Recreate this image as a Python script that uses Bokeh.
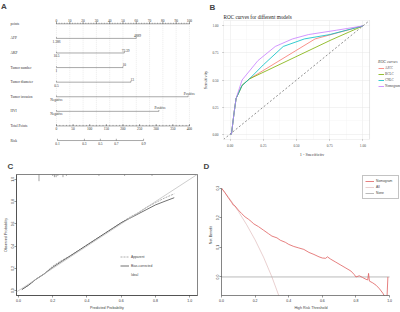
from bokeh.plotting import figure
from bokeh.models import (Range1d, Label, Legend, LegendItem, Slope, FixedTicker,
                          NumeralTickFormatter, Title, BoxAnnotation)
from bokeh.layouts import row, column
from bokeh.embed import file_html
from bokeh.resources import INLINE
from bokeh.core.properties import value

SERIF = "Liberation Serif"
SANS = "Liberation Sans"
W, H = 200, 156

# ---------------- Panel A: nomogram ----------------
nomo_rows = ["points", "AFP", "AKP", "Tumor number", "Tumor diameter",
             "Tumor invasion", "HVI", "Total Points", "Risk"]
nomo_var_points = [60, 51, 50, 56, 99, 77]
nomo_low_labels = ["1.386", "10.5", "1", "0.5", "Negative", "Negative"]
nomo_high_labels = ["4889", "73.39", "10", "13", "Positive", "Positive"]
points_ticks = [0, 10, 20, 30, 40, 50, 60, 70, 80, 90, 100]
total_points_ticks = [0, 50, 100, 150, 200, 250, 300, 350, 400]
risk_labels = ["0.1", "0.3", "0.5", "0.7", "0.9"]
risk_total_points = [3, 84, 132, 180, 262]

# ---------------- Panel B: ROC ----------------
roc_models = ["AJCC", "BCLC", "CNLC", "Nomogram"]
roc_colors = ["#F8766D", "#7CAE00", "#00BFC4", "#C77CFF"]
fpr_ajcc = [0.0, 0.01, 0.03, 0.045, 0.09, 0.145, 0.64, 1.0]
tpr_ajcc = [0.0, 0.0, 0.20, 0.33, 0.45, 0.51, 0.88, 1.0]
fpr_bclc = [0.0, 0.01, 0.03, 0.045, 0.09, 0.145, 0.76, 1.0]
tpr_bclc = [0.0, 0.0, 0.20, 0.33, 0.45, 0.51, 0.87, 1.0]
fpr_cnlc = [0.0, 0.01, 0.03, 0.045, 0.09, 0.145, 0.25, 0.40, 0.56, 0.75, 1.0]
tpr_cnlc = [0.0, 0.0, 0.20, 0.33, 0.45, 0.51, 0.64, 0.81, 0.88, 0.92, 1.0]
fpr_nomo = [0.0, 0.01, 0.03, 0.045, 0.09, 0.21, 0.34, 0.47, 0.59, 0.80, 1.0]
tpr_nomo = [0.0, 0.0, 0.20, 0.33, 0.50, 0.68, 0.81, 0.88, 0.92, 0.96, 1.0]
roc_chance = [-0.05, 1.05]
roc_ticks = [0.0, 0.25, 0.5, 0.75, 1.0]
roc_minor = [0.125, 0.375, 0.625, 0.875]

# ---------------- Panel C: calibration ----------------
cal_pred = [0.02, 0.06, 0.10, 0.15, 0.20, 0.25, 0.30, 0.35, 0.40, 0.45, 0.50, 0.55,
            0.60, 0.65, 0.70, 0.75, 0.80, 0.85, 0.91]
cal_apparent = [0.01, 0.05, 0.10, 0.15, 0.22, 0.27, 0.31, 0.36, 0.41, 0.46, 0.51, 0.56,
                0.61, 0.66, 0.70, 0.75, 0.79, 0.83, 0.87]
cal_bias_corrected = [0.01, 0.05, 0.10, 0.15, 0.21, 0.26, 0.31, 0.36, 0.41, 0.46, 0.51, 0.56,
                      0.61, 0.65, 0.69, 0.73, 0.77, 0.80, 0.835]
rug_x = [0.12, 0.20, 0.21, 0.22, 0.23, 0.26, 0.28, 0.47, 0.62, 0.78]
rug_freq = [5, 1, 2, 2, 1, 2, 1, 1, 1, 1]
cal_ticks = [0.0, 0.2, 0.4, 0.6, 0.8, 1.0]

# ---------------- Panel D: decision curve ----------------
dca_threshold = [0.00, 0.02, 0.04, 0.06, 0.07, 0.08, 0.10, 0.12, 0.14, 0.16, 0.18, 0.19,
                 0.22, 0.25, 0.28, 0.30, 0.33, 0.35, 0.38, 0.40, 0.43, 0.46, 0.49, 0.52,
                 0.55, 0.58, 0.60, 0.62, 0.63, 0.65, 0.68, 0.71, 0.74, 0.77, 0.79, 0.80,
                 0.82, 0.84, 0.86, 0.87, 0.875, 0.88, 0.90, 0.92, 0.94, 0.96, 0.97, 0.985, 0.99]
dca_nomogram = [0.300, 0.285, 0.268, 0.252, 0.243, 0.240, 0.226, 0.214, 0.203, 0.195, 0.186, 0.180,
                0.170, 0.158, 0.146, 0.138, 0.132, 0.124, 0.117, 0.110, 0.103, 0.098, 0.093, 0.083,
                0.076, 0.068, 0.064, 0.063, 0.068, 0.060, 0.050, 0.040, 0.030, 0.020, 0.008, 0.000,
                0.004, -0.002, -0.008, -0.010, 0.012, -0.014, -0.020, -0.028, -0.040, -0.055, -0.065, -0.065, 0.000]
dca_all_threshold = [0.0, 0.05, 0.10, 0.15, 0.20, 0.25, 0.30, 0.35, 0.40]
dca_all = [0.30, 0.263, 0.222, 0.176, 0.125, 0.067, 0.0, -0.077, -0.167]
dca_none_threshold = [0.0, 1.0]
dca_none = [0.0, 0.0]
dca_x_ticks = [0.0, 0.2, 0.4, 0.6, 0.8, 1.0]
dca_y_ticks = [0.0, 0.1, 0.2, 0.3]


def base_fig(**kw):
    p = figure(width=W, height=H, output_backend="svg", toolbar_location=None,
               title_location=None, **kw)
    p.frame_align = False
    return p


def letter_title(p, t, offset, standoff):
    p.add_layout(Title(text=t, align="left", offset=offset, standoff=standoff,
                       text_font=SANS, text_font_style="bold", text_font_size="8px"), "above")


# ======== Panel A ========
pA = base_fig(x_range=Range1d(-42.1, 108.3), y_range=Range1d(9.095, -1.597),
              x_axis_type=None, y_axis_type=None, min_border=0)
pA.outline_line_color = None
txtA = dict(text_font=value(SERIF), text_font_size="3.5px", text_color="#333333")
ln = dict(line_color="#555555", line_width=0.5)
rows = list(range(len(nomo_rows)))
pA.text(x=[-34.6] * len(rows), y=rows, text=nomo_rows, text_align="left",
        text_baseline="middle", **txtA)
pA.segment(x0=points_ticks, y0=[0] * 11, x1=points_ticks, y1=[7.1] * 11,
           line_color="#CCCCCC", line_width=0.4, line_dash="1 1")
pA.line(x=[points_ticks[0], points_ticks[-1]], y=[0, 0], **ln)
minor_pts = [v / 2 for v in range(0, 201, 4)]
pA.segment(x0=minor_pts, y0=[0] * len(minor_pts), x1=minor_pts, y1=[-0.07] * len(minor_pts), **ln)
pA.segment(x0=points_ticks, y0=[0] * 11, x1=points_ticks, y1=[-0.13] * 11, **ln)
pA.text(x=points_ticks, y=[-0.14] * 11, text=[str(v) for v in points_ticks],
        text_align="center", text_baseline="bottom", **txtA)
var_rows = rows[1:7]
pA.segment(x0=[0] * 6, y0=var_rows, x1=nomo_var_points, y1=var_rows, **ln)
pA.segment(x0=[0] * 6, y0=var_rows, x1=[0] * 6, y1=[r - 0.09 for r in var_rows], **ln)
pA.segment(x0=nomo_var_points, y0=var_rows, x1=nomo_var_points,
           y1=[r - 0.09 for r in var_rows], **ln)
pA.text(x=[0] * 6, y=[r + 0.2 for r in var_rows], text=nomo_low_labels,
        text_align="center", text_baseline="middle", **txtA)
pA.text(x=[v + 1 for v in nomo_var_points], y=[r - 0.2 for r in var_rows], text=nomo_high_labels,
        text_align="center", text_baseline="middle", **txtA)
tp_scale = points_ticks[-1] / total_points_ticks[-1]
tp_minor = [v * tp_scale for v in range(0, 401, 10)]
pA.line(x=[0, total_points_ticks[-1] * tp_scale], y=[7, 7], **ln)
pA.segment(x0=tp_minor, y0=[7] * len(tp_minor), x1=tp_minor, y1=[6.93] * len(tp_minor), **ln)
tp_x = [v * tp_scale for v in total_points_ticks]
pA.segment(x0=tp_x, y0=[7] * 9, x1=tp_x, y1=[6.87] * 9, **ln)
pA.text(x=tp_x, y=[7.2] * 9, text=[str(v) for v in total_points_ticks],
        text_align="center", text_baseline="middle", **txtA)
rk_x = [v * tp_scale for v in risk_total_points]
pA.line(x=[rk_x[0], rk_x[-1]], y=[8, 8], **ln)
pA.segment(x0=rk_x, y0=[8] * 5, x1=rk_x, y1=[7.88] * 5, **ln)
pA.text(x=rk_x, y=[8.22] * 5, text=risk_labels, text_align="center",
        text_baseline="middle", **txtA)
pA.add_layout(Label(x=-41.7, y=-1.5, text="A", text_font=SANS, text_font_style="bold",
                    text_font_size="8px", text_baseline="top"))

# ======== Panel B ========
pB = base_fig(x_range=Range1d(-0.05, 1.283), y_range=Range1d(-0.05, 1.05),
              min_border_left=17, min_border_right=0, min_border_top=13, min_border_bottom=8)
pB.outline_line_color = None
pB.add_layout(BoxAnnotation(left=-0.05, right=1.05, bottom=-0.05, top=1.05,
                            fill_alpha=0, line_color="#777777", line_width=0.6))
for ax in (pB.xaxis[0], pB.yaxis[0]):
    ax.ticker = FixedTicker(ticks=roc_ticks, minor_ticks=roc_minor)
    ax.formatter = NumeralTickFormatter(format="0.00")
    ax.axis_line_color = None
    ax.major_tick_line_color = "#555555"
    ax.major_tick_line_width = 0.5
    ax.major_tick_out = 1
    ax.major_tick_in = 0
    ax.minor_tick_line_color = None
    ax.major_label_text_font = SERIF
    ax.major_label_text_font_size = "3.5px"
    ax.major_label_text_color = "#4D4D4D"
    ax.major_label_standoff = 1
    ax.axis_label_text_font = SERIF
    ax.axis_label_text_font_size = "4.3px"
    ax.axis_label_text_font_style = "normal"
    ax.axis_label_standoff = 1
pB.xaxis[0].major_label_standoff = 0
pB.yaxis.axis_label = "Sensitivity"
pB.add_layout(Title(text="1 - Specificity", align="center", offset=-16, standoff=0,
                    text_font=SERIF, text_font_size="4.3px", text_font_style="normal"), "below")
pB.xgrid[0].cross_bounds = (-0.05, 1.05)
pB.ygrid[0].cross_bounds = (-0.05, 1.05)
for g in (pB.xgrid[0], pB.ygrid[0]):
    g.grid_line_color = "#E6E6E6"
    g.grid_line_width = 0.5
    g.minor_grid_line_color = "#F3F3F3"
    g.minor_grid_line_width = 0.4
roc_data = [(fpr_ajcc, tpr_ajcc), (fpr_bclc, tpr_bclc), (fpr_cnlc, tpr_cnlc), (fpr_nomo, tpr_nomo)]
roc_items = []
pB.line(x=roc_chance, y=roc_chance, line_color="#444444", line_width=0.6, line_dash="2 2")
for name, col, (fx, ty) in zip(roc_models, roc_colors, roc_data):
    r = pB.line(fx, ty, line_color=col, line_width=0.8)
    roc_items.append(LegendItem(label=name, renderers=[r]))
legB = Legend(items=roc_items, title="ROC curves", location=(155, 50),
              label_text_font=SERIF, label_text_font_size="3.3px",
              title_text_font=SERIF, title_text_font_size="4px", title_standoff=1,
              glyph_width=6, glyph_height=6, label_height=6, label_standoff=1,
              spacing=0, padding=0, margin=0, border_line_color=None,
              background_fill_alpha=0)
pB.add_layout(legB)
pB.add_layout(Title(text="ROC curves for different models", align="left", standoff=1,
                    text_font=SERIF, text_font_size="5.2px", text_font_style="normal",
                    text_color="#222222"), "above")
letter_title(pB, "B", -14, 0)

# ======== Panel C ========
pC = base_fig(x_range=Range1d(-0.0114, 1.0457), y_range=Range1d(-0.0435, 1.0435),
              min_border_left=12, min_border_right=3, min_border_top=17, min_border_bottom=14)
pC.outline_line_color = "#333333"
pC.outline_line_width = 0.6
pC.grid.visible = False


def base_axes(p, xt, yt, font):
    for ax in (p.xaxis[0], p.yaxis[0]):
        ax.axis_line_color = "#333333"
        ax.axis_line_width = 0.6
        ax.major_tick_line_color = "#333333"
        ax.major_tick_line_width = 0.5
        ax.major_tick_out = 2
        ax.major_tick_in = 0
        ax.minor_tick_line_color = None
        ax.major_label_text_font = font
        ax.major_label_text_font_size = "3.5px"
        ax.major_label_text_color = "#333333"
        ax.major_label_standoff = 1
        ax.axis_label_text_font = font
        ax.axis_label_text_font_size = "3.7px"
        ax.axis_label_text_font_style = "normal"
        ax.axis_label_standoff = 1
    p.xaxis[0].ticker = FixedTicker(ticks=xt)
    p.yaxis[0].ticker = FixedTicker(ticks=yt)
    p.xaxis[0].formatter = NumeralTickFormatter(format="0.0")
    p.yaxis[0].formatter = NumeralTickFormatter(format="0.0")
    p.yaxis[0].major_label_orientation = "vertical"
    p.yaxis[0].major_label_standoff = 0


base_axes(pC, cal_ticks, cal_ticks, SANS)
pC.xaxis.axis_label = "Predicted Probability"
pC.yaxis.axis_label = "Observed Probability"
pC.add_layout(Slope(gradient=1, y_intercept=0, line_color="#B8B8B8", line_width=0.7))
r_ideal = pC.line([], [], line_color="#B8B8B8", line_width=0.7)
r_app = pC.line(cal_pred, cal_apparent, line_color="#8A8A8A", line_width=0.7, line_dash="2 1")
r_bias = pC.line(cal_pred, cal_bias_corrected, line_color="#333333", line_width=0.7)
rug_top = pC.y_range.end
pC.segment(x0=rug_x, y0=[rug_top] * len(rug_x), x1=rug_x,
           y1=[rug_top - 0.012 * f for f in rug_freq], line_color="#444444", line_width=0.5)
legC = Legend(items=[LegendItem(label="Apparent", renderers=[r_app]),
                     LegendItem(label="Bias-corrected", renderers=[r_bias]),
                     LegendItem(label="Ideal", renderers=[r_ideal])],
              location=(104, 16), label_text_font=SANS, label_text_font_size="3.3px",
              glyph_width=9, glyph_height=9, label_height=9, label_standoff=2,
              spacing=0, padding=0, margin=0, border_line_color=None,
              background_fill_alpha=0)
pC.add_layout(legC)
letter_title(pC, "C", -9, 7)

# ======== Panel D ========
pD = base_fig(x_range=Range1d(0.0, 1.065), y_range=Range1d(-0.0626, 0.346),
              min_border_left=21, min_border_right=0, min_border_top=17, min_border_bottom=15)
pD.outline_line_color = None
pD.grid.visible = False
base_axes(pD, dca_x_ticks, dca_y_ticks, SANS)
pD.xaxis[0].bounds = (0.0, 1.0)
pD.yaxis[0].bounds = (-0.0626, 0.3)
pD.xaxis.axis_label = "High Risk Threshold"
pD.yaxis.axis_label = "Net Benefit"
r_all = pD.line(dca_all_threshold, dca_all, line_color="#E3C4C4", line_width=0.8)
r_none = pD.line(dca_none_threshold, dca_none, line_color="#A8A8A8", line_width=0.8)
r_nomo = pD.line(dca_threshold, dca_nomogram, line_color="#E06060", line_width=0.8)
legD = Legend(items=[LegendItem(label="Nomogram", renderers=[r_nomo]),
                     LegendItem(label="All", renderers=[r_all]),
                     LegendItem(label="None", renderers=[r_none])],
              location="top_right", label_text_font=SANS, label_text_font_size="3.3px",
              glyph_width=9, glyph_height=6, label_height=6, label_standoff=2,
              spacing=0, padding=2, margin=1, border_line_color="#888888",
              border_line_width=0.5, background_fill_color="white")
pD.add_layout(legD)
letter_title(pD, "D", -18, 7)

layout = column(row(pA, pB), row(pC, pD))
open("out.html", "w").write(file_html(layout, INLINE))
